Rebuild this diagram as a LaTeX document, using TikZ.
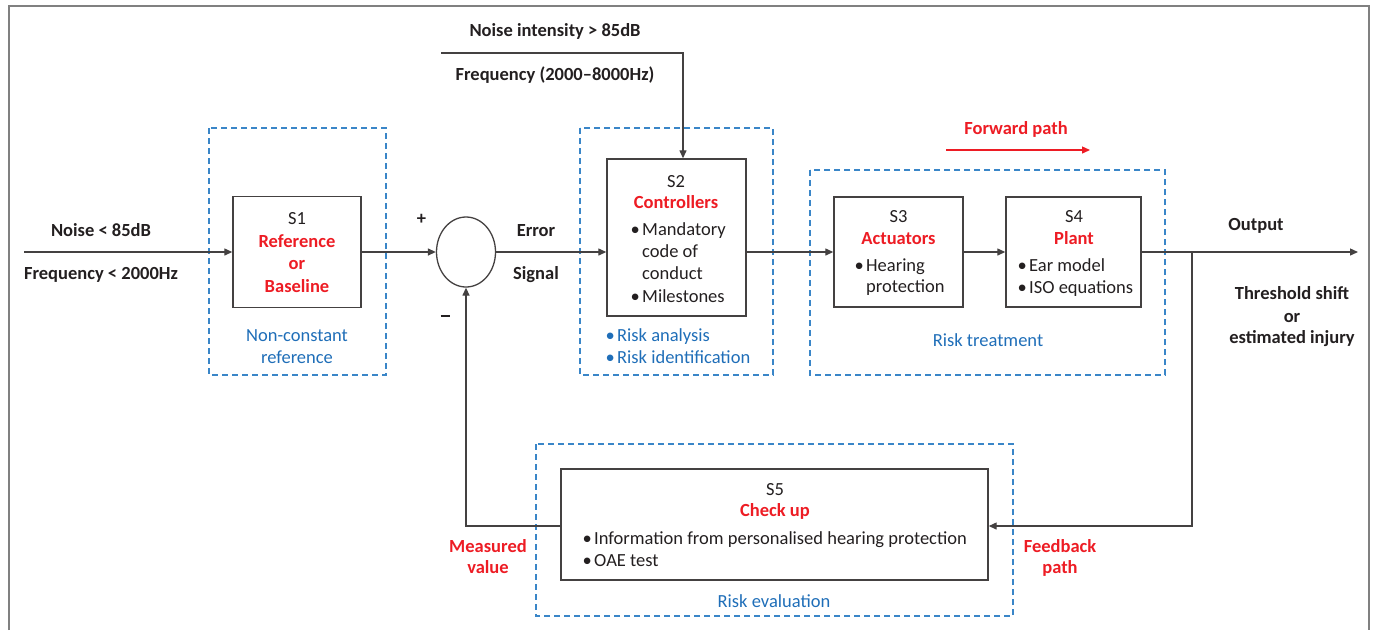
\documentclass[tikz,border=0pt]{standalone}
\usepackage{fontspec}
\setmainfont{Carlito}
\usetikzlibrary{arrows.meta,shapes.geometric}
\definecolor{rd}{HTML}{ED1C24}
\definecolor{bl}{HTML}{1F6EB8}
\definecolor{dbl}{HTML}{3A86C8}
\definecolor{ink}{HTML}{231F20}
\definecolor{frm}{HTML}{808080}
\newcommand{\bulitem}[1]{\makebox[11.5pt][l]{•}#1}
\begin{document}
\begin{tikzpicture}[x=1pt,y=-1pt,
  box/.style={draw=ink!85, line width=1.4pt, inner sep=0},
  grp/.style={draw=dbl, line width=1.3pt, dash pattern=on 6pt off 4pt},
  wire/.style={draw=ink!85, line width=1.3pt},
  arr/.style={wire,-{Triangle[length=8pt,width=7pt]}},
  t/.style={anchor=base, inner sep=0, font=\fontsize{18.5}{22}\selectfont, text=ink},
  tb/.style={t, font=\fontsize{18.5}{22}\selectfont\bfseries},
  tr/.style={tb, text=rd},
  tblu/.style={t, text=bl},
  tl/.style={t, anchor=base west},
  tlb/.style={tl, text=bl},
]
\useasboundingbox (0,0) rectangle (1375,630);
% frame
\draw[frm, line width=2pt] (8.5,630) -- (8.5,5.5) -- (1369,5.5) -- (1369,630);

% dashed groups
\draw[grp] (209,128) rectangle (386,375);
\draw[grp] (580,128) rectangle (773,375);
\draw[grp] (810,170) rectangle (1165,375);
\draw[grp] (536,444) rectangle (1013,616);

% boxes
\node[box, minimum width=128pt, minimum height=111pt] (s1) at (297,252) {};
\node[box, minimum width=139pt, minimum height=157pt] (s2) at (676.5,237.5) {};
\node[box, minimum width=129pt, minimum height=110pt] (s3) at (898.5,252) {};
\node[box, minimum width=135pt, minimum height=110pt] (s4) at (1073.5,252) {};
\node[box, minimum width=427pt, minimum height=111pt] (s5) at (774.5,524.5) {};
\node[draw=ink!85, line width=1.3pt, ellipse, minimum width=59pt, minimum height=70pt, inner sep=0] (sum) at (466,252) {};

% coordinates
\coordinate (in) at (24,252);
\coordinate (top) at (441,53);
\coordinate (top2) at (683,53);
\coordinate (out) at (1358,252);
\coordinate (br) at (1192,252);
\coordinate (brd) at (1192,526);
\coordinate (mv) at (466,526);
\coordinate (fp1) at (946,150);
\coordinate (fp2) at (1090,150);

% connectors
\draw[arr] (in) -- (s1.west);
\draw[arr] (s1.east) -- (sum.west);
\draw[arr] (sum.east) -- (sum.east -| s2.west);
\draw[arr] (top) -- (top2) -- (top2 |- s2.north);
\draw[arr] (s2.east |- s3.west) -- (s3.west);
\draw[arr] (s3.east) -- (s4.west);
\draw[arr] (s4.east) -- (out);
\draw[arr] (br) -- (brd) -- (brd -| s5.east);
\draw[arr] (s5.west |- mv) -- (mv) -- (sum.south);
\draw[rd, line width=1.3pt, -{Triangle[length=8pt,width=7pt]}] (fp1) -- (fp2);

% outside labels
\node[tb] (l1) at (101,236) {Noise < 85dB};
\node[tb] (l2) at (101,279) {Frequency < 2000Hz};
\node[tb] (l3) at (555,36) {Noise intensity > 85dB};
\node[tb] (l4) at (555,80) {Frequency (2000–8000Hz)};
\node[tb] (l5) at (536,236) {Error};
\node[tb] (l6) at (536,279) {Signal};
\node[tb, anchor=center] (plus) at (421.5,219) {+};
\node[tb, anchor=center, text=ink] (minus) at (445,316) {\rule{9pt}{2.2pt}};
\node[tb] (l7) at (1256,230) {Output};
\node[tb] (l8) at (1292,299) {Threshold shift};
\node[tb] (l9) at (1292,322) {or};
\node[tb] (l10) at (1292,343) {estimated injury};
\node[tr] (l11) at (1016,134) {Forward path};
\node[tr] (l12) at (488,552) {Measured};
\node[tr] (l13) at (488,573.5) {value};
\node[tr] (l14) at (1060,552) {Feedback};
\node[tr] (l15) at (1060,573.5) {path};

% S1
\node[t] (s1a) at (297,224) {S1};
\node[tr] (s1b) at (297,247) {Reference};
\node[tr] (s1c) at (297,269) {or};
\node[tr] (s1d) at (297,292) {Baseline};
\node[tblu] (g1a) at (297,341) {Non-constant};
\node[tblu] (g1b) at (297,363) {reference};

% S2
\node[t] (s2a) at (676,187) {S2};
\node[tr] (s2b) at (676,208) {Controllers};
\node[tl] (s2c) at (630.5,235) {\bulitem{Mandatory}};
\node[tl] (s2d) at (642,257) {code of};
\node[tl] (s2e) at (642,279) {conduct};
\node[tl] (s2f) at (630.5,302) {\bulitem{Milestones}};
\node[tlb] (g2a) at (605.5,341) {\bulitem{Risk analysis}};
\node[tlb] (g2b) at (605.5,363) {\bulitem{Risk identification}};

% S3
\node[t] (s3a) at (898.5,222) {S3};
\node[tr] (s3b) at (898.5,244) {Actuators};
\node[tl] (s3c) at (854.5,271) {\bulitem{Hearing}};
\node[tl] (s3d) at (866,292.5) {protection};

% S4
\node[t] (s4a) at (1074,222) {S4};
\node[tr] (s4b) at (1074,244) {Plant};
\node[tl] (s4c) at (1017.5,271) {\bulitem{Ear model}};
\node[tl] (s4d) at (1017.5,293) {\bulitem{ISO equations}};
\node[tblu] (g3) at (988,346.5) {Risk treatment};

% S5
\node[t] (s5a) at (775,495) {S5};
\node[tr] (s5b) at (775,516.5) {Check up};
\node[tl] (s5c) at (582.5,544) {\bulitem{Information from personalised hearing protection}};
\node[tl] (s5d) at (582.5,566) {\bulitem{OAE test}};
\node[tblu] (g4) at (774,607) {Risk evaluation};
\end{tikzpicture}
\end{document}
